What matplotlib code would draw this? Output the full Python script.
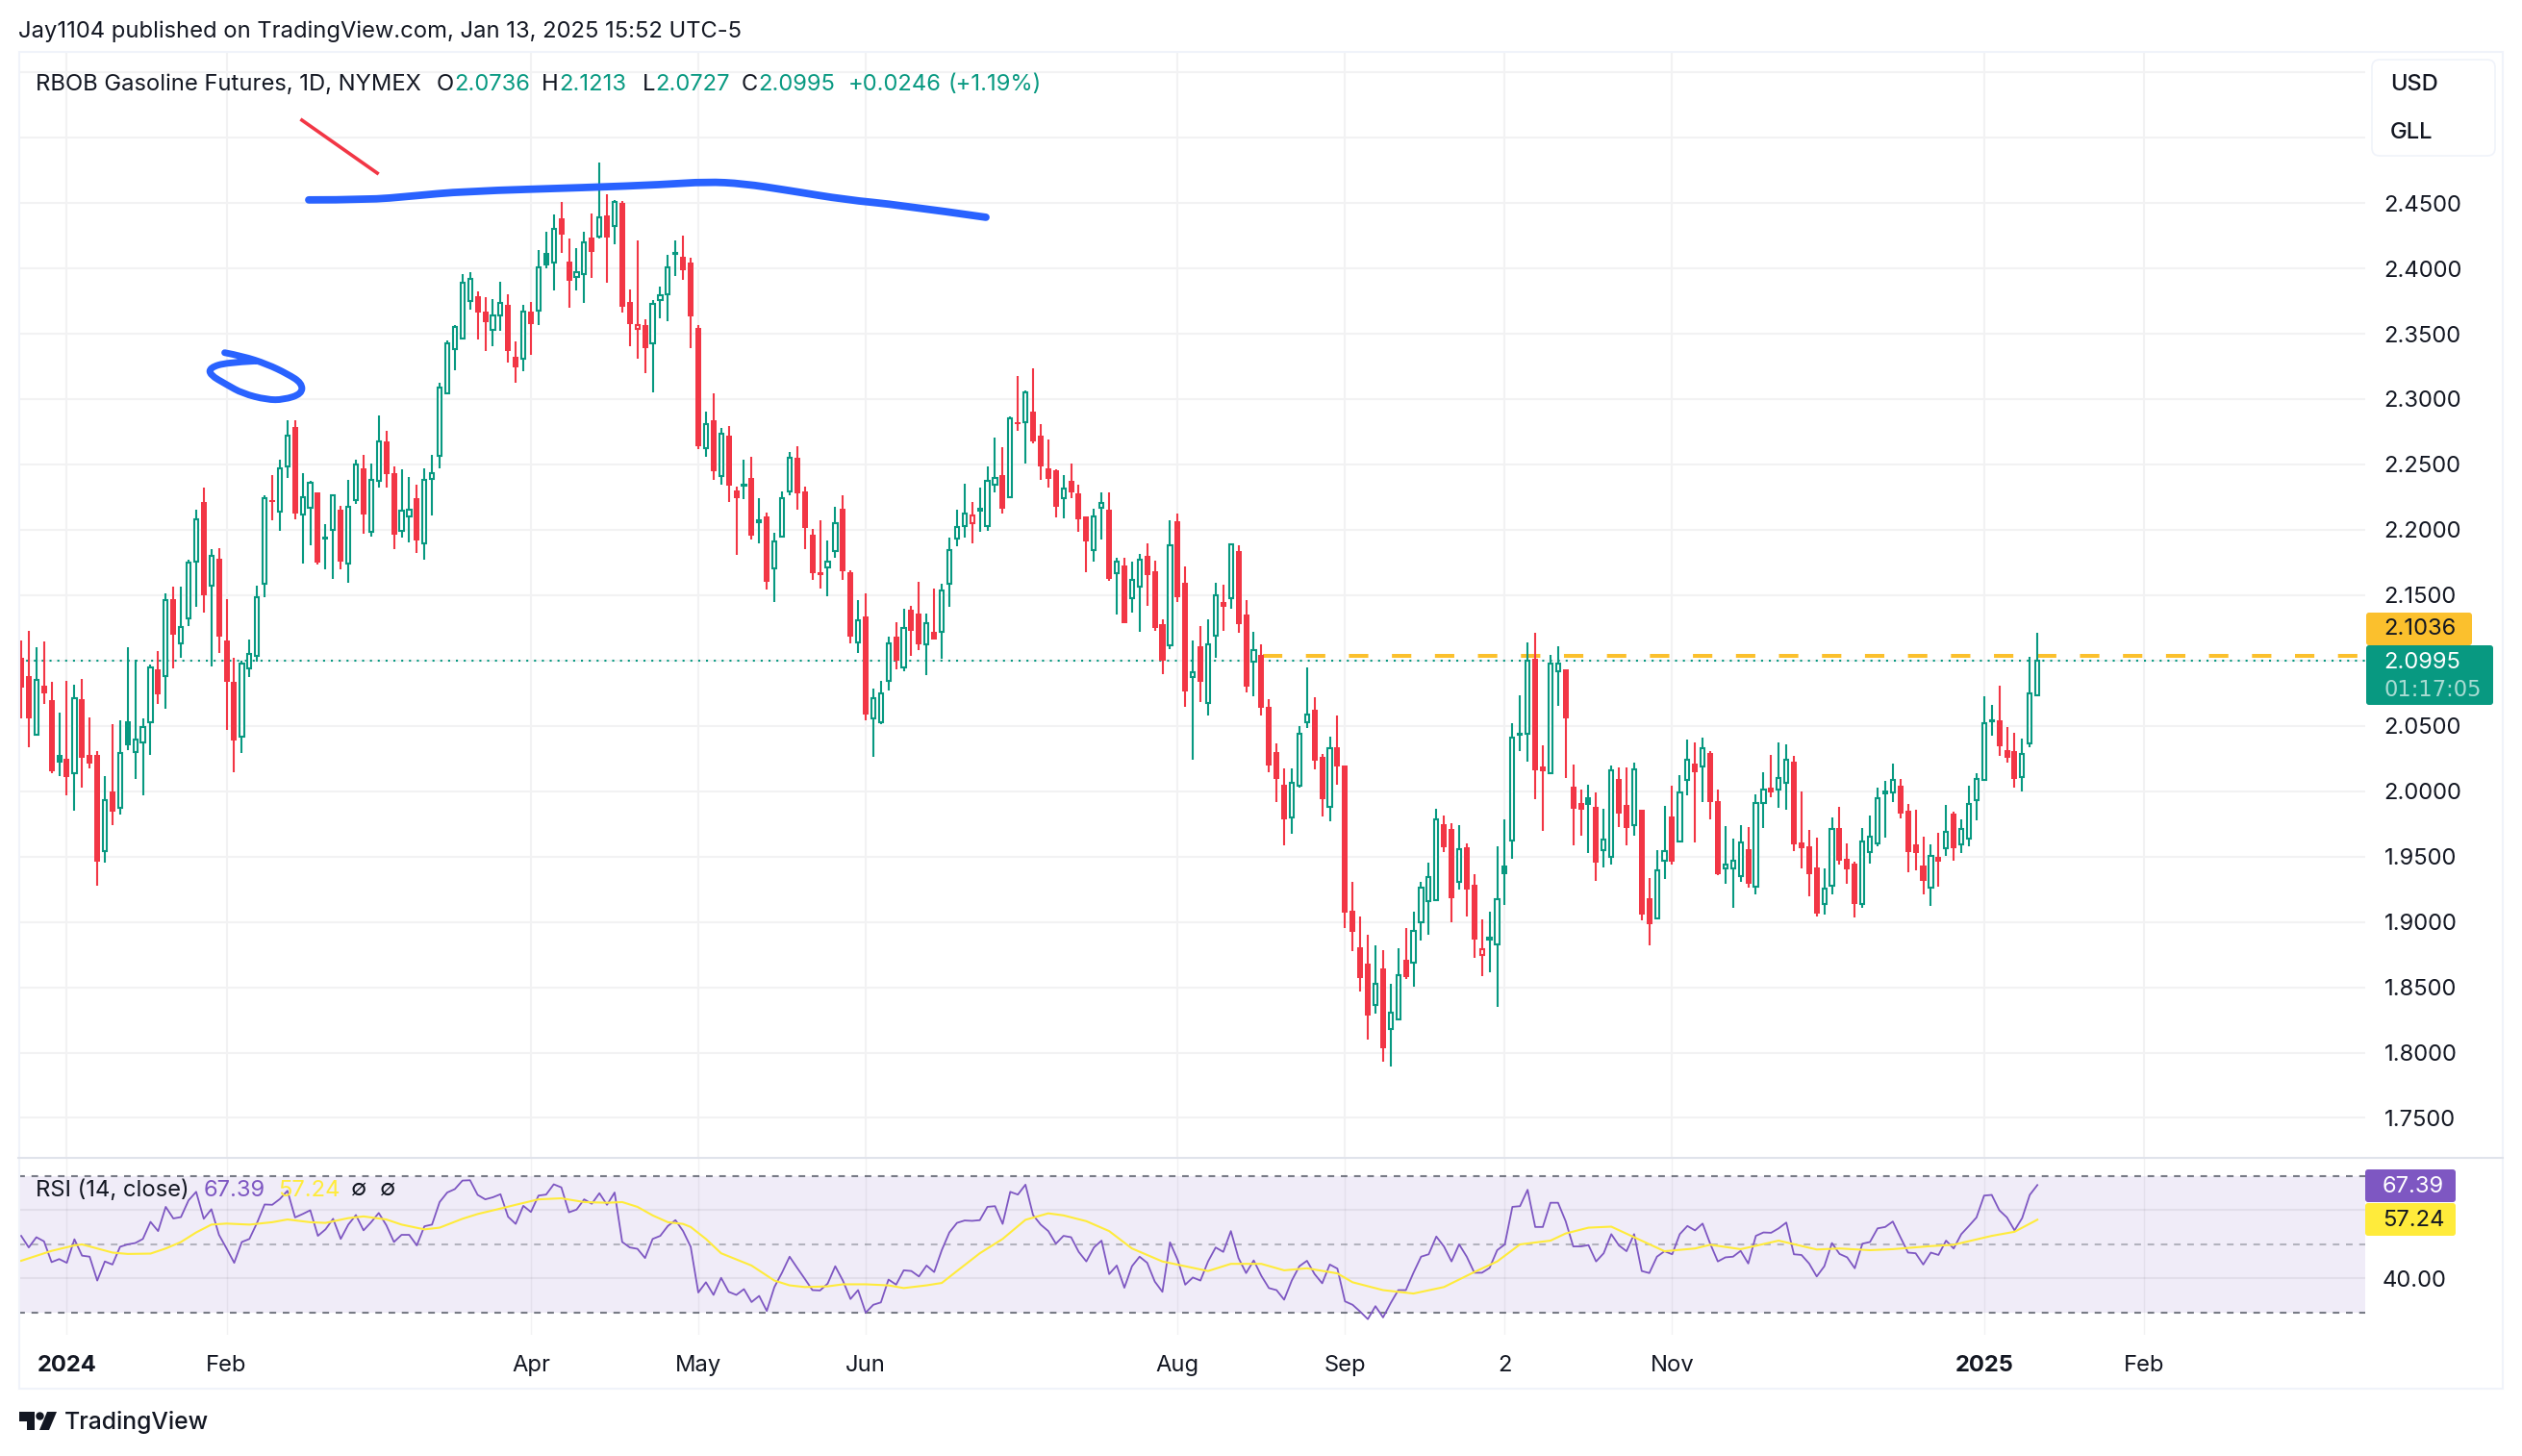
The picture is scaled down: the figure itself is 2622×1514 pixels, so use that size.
import matplotlib
matplotlib.use("Agg")
import matplotlib.pyplot as plt
from matplotlib.patches import FancyBboxPatch, Polygon, Circle, Rectangle, PathPatch
from matplotlib.path import Path

plt.rcParams['font.family'] = ['Inter', 'DejaVu Sans']

# =========================== data ===========================
highs = [
    2.1151,2.123,2.1099,2.1144,2.084,2.06,2.0847,2.0814,2.0862,2.0562,
    2.0307,2.0112,2.051,2.054,2.1099,2.1009,2.0555,2.0967,2.1069,2.1511,
    2.1564,2.1567,2.1774,2.2156,2.2325,2.1849,2.1856,2.1466,2.1024,2.1001,
    2.1159,2.1571,2.2261,2.2422,2.2539,2.2835,2.2839,2.2437,2.2374,2.2284,
    2.204,2.2272,2.2182,2.2385,2.2539,2.2576,2.2509,2.2876,2.276,2.2486,
    2.246,2.2407,2.2347,2.2467,2.2576,2.3124,2.3446,2.357,2.396,2.3971,
    2.3825,2.378,2.3765,2.39,2.3802,2.3442,2.3724,2.3746,2.414,2.4279,
    2.4414,2.4507,2.423,2.4155,2.4279,2.4421,2.4807,2.4567,2.4526,2.4519,
    2.384,2.4215,2.3611,2.3761,2.3859,2.4106,2.4215,2.4252,2.408,2.357,
    2.2906,2.3045,2.2782,2.2797,2.2329,2.2539,2.2561,2.2239,2.213,2.1976,
    2.2291,2.2595,2.2636,2.2329,2.201,2.207,2.192,2.2179,2.2261,2.1687,
    2.1459,2.1511,2.0784,2.0847,2.1181,2.129,2.1399,2.1421,2.1605,2.1357,
    2.1552,2.159,2.1942,2.2156,2.2355,2.2209,2.2325,2.2486,2.2707,2.2629,
    2.2869,2.318,2.3067,2.3232,2.2812,2.2692,2.246,2.2415,2.2509,2.2347,
    2.21,2.2164,2.2284,2.2284,2.1789,2.1789,2.1759,2.1815,2.1894,2.1766,
    2.1312,2.207,2.2126,2.1717,2.1151,2.1267,2.1312,2.1594,2.1582,2.1897,
    2.1879,2.1459,2.1217,2.1124,2.0704,2.0365,2.0173,2.0173,2.0497,2.0947,
    2.0719,2.0284,2.0416,2.0578,2.0197,1.9306,1.9042,1.8904,1.8823,1.8784,
    1.8529,1.8799,1.8955,1.9078,1.9306,1.9453,1.9867,1.9813,1.9756,1.9741,
    1.96,1.9366,1.9021,1.9078,1.9579,1.9786,2.0521,2.0734,2.1136,2.1211,
    2.035,2.1043,2.1109,2.0932,2.0203,2.0014,2.005,1.999,1.9867,2.0194,
    2.0182,2.0182,2.0218,1.9858,1.9336,1.9549,1.9888,2.0041,2.0122,2.0395,
    2.0374,2.041,2.0308,2.0014,1.9732,1.9639,1.9741,1.9726,1.9975,2.0146,
    2.0278,2.0374,2.0362,2.0269,1.9999,1.9705,1.9645,1.9411,1.9801,1.9879,
    1.96,1.9462,1.972,1.9816,2.0029,2.0081,2.0213,2.0095,1.9904,1.986,
    1.9654,1.9596,1.9681,1.9895,1.9846,1.9787,2.0044,2.014,2.0728,2.0661,
    2.0808,2.0492,2.0448,2.0404,2.1029,2.1213,
]
body_tops = [
    2.102,2.0878,2.0851,2.0806,2.0694,2.0274,2.0247,2.0712,2.0701,2.0274,
    2.0281,1.9932,1.9996,2.0292,2.0532,2.0397,2.0491,2.0945,2.093,2.1462,
    2.1466,2.1256,2.1751,2.2081,2.2216,2.18,2.1781,2.1151,2.084,2.0975,
    2.105,2.1485,2.2239,2.2224,2.2467,2.2719,2.279,2.225,2.2362,2.2284,
    2.195,2.2265,2.2156,2.2175,2.2497,2.2467,2.2381,2.2674,2.2677,2.2437,
    2.2145,2.2152,2.2239,2.2381,2.2434,2.3086,2.3424,2.3551,2.3889,2.3919,
    2.3787,2.3671,2.3637,2.3735,2.3724,2.3326,2.3667,2.3671,2.4005,2.4121,
    2.4305,2.4384,2.4054,2.3971,2.4196,2.4237,2.4387,2.4406,2.4511,2.45,
    2.3746,2.357,2.357,2.3731,2.3791,2.4005,2.4121,2.4091,2.4046,2.3547,
    2.2809,2.2835,2.2734,2.2722,2.2302,2.2347,2.24,2.207,2.2104,2.1912,
    2.2242,2.255,2.2554,2.2295,2.1965,2.1672,2.1759,2.2051,2.2164,2.1672,
    2.1309,2.1335,2.0712,2.075,2.1132,2.1181,2.1249,2.1391,2.1357,2.1286,
    2.1222,2.1537,2.1845,2.2021,2.2122,2.2107,2.2171,2.2374,2.2396,2.2422,
    2.285,2.282,2.3049,2.2906,2.2722,2.2467,2.2452,2.2314,2.2377,2.2276,
    2.21,2.21,2.2205,2.2156,2.1759,2.1725,2.1616,2.177,2.1804,2.168,
    2.1275,2.1882,2.2062,2.1597,2.0911,2.1106,2.1125,2.15,2.1451,2.189,
    2.1834,2.135,2.1082,2.1043,2.0644,2.0299,2.005,2.0062,2.0437,2.059,
    2.0623,2.0263,2.0332,2.0335,2.0197,1.9087,1.8808,1.8682,1.8526,1.8646,
    1.8304,1.8592,1.8712,1.8928,1.9261,1.9342,1.9783,1.9747,1.9711,1.9555,
    1.9573,1.9285,1.879,1.8877,1.9177,1.9435,2.0407,2.0443,2.1001,2.1013,
    2.0188,2.0974,2.098,2.0932,2.0035,1.9909,1.9954,1.9879,1.9627,2.0158,
    2.0095,1.9894,2.0164,1.9858,1.9183,1.9393,1.954,1.9807,1.9987,2.0239,
    2.0212,2.0326,2.0293,1.9924,1.9441,1.9465,1.9606,1.9558,1.9906,2.0011,
    2.0026,2.0104,2.0239,2.0227,1.9609,1.9579,1.9417,1.9252,1.9708,1.972,
    1.9483,1.9447,1.9612,1.965,1.9944,2.0007,2.0083,2.0044,1.985,1.9596,
    1.9434,1.9503,1.95,1.9686,1.9831,1.9708,1.9899,2.0091,2.0517,2.0541,
    2.0544,2.0316,2.0309,2.0284,2.0745,2.0995,
]
body_bottoms = [
    2.0795,2.0555,2.0431,2.0746,2.015,2.0217,2.0105,2.0139,2.0255,2.021,
    1.946,1.9542,1.9842,1.9876,2.0352,2.03,2.0371,2.0529,2.0739,2.0881,
    2.1196,2.1129,2.1324,2.1755,2.1496,2.1575,2.1181,2.0836,2.0386,2.042,
    2.0941,2.1035,2.1586,2.2209,2.2137,2.2486,2.2126,2.2119,2.2171,2.1751,
    2.1927,2.1999,2.1759,2.174,2.2227,2.2119,2.1984,2.2374,2.2426,2.1961,
    2.1991,2.2104,2.192,2.1897,2.2392,2.2569,2.3045,2.3379,2.3461,2.375,
    2.366,2.3592,2.3532,2.3641,2.3367,2.3244,2.3311,2.3574,2.3675,2.402,
    2.4042,2.426,2.3907,2.3934,2.3956,2.4125,2.4245,2.4237,2.4324,2.3709,
    2.3574,2.354,2.339,2.3424,2.3757,2.3799,2.411,2.3986,2.3634,2.2636,
    2.2625,2.2445,2.2411,2.234,2.2239,2.2336,2.1957,2.2059,2.1605,2.1706,
    2.195,2.2291,2.2276,2.2017,2.1665,2.165,2.171,2.1837,2.168,2.1181,
    2.1136,2.0589,2.0555,2.0525,2.0844,2.0997,2.0949,2.123,2.1121,2.1121,
    2.1159,2.1219,2.1586,2.1931,2.2025,2.2051,2.2137,2.2029,2.2347,2.2164,
    2.2246,2.2809,2.2824,2.2677,2.2486,2.2392,2.2179,2.2242,2.2287,2.2077,
    2.1909,2.1845,2.2167,2.1624,2.1669,2.1282,2.1477,2.1564,2.165,2.1249,
    2.1001,2.1114,2.1481,2.0761,2.0874,2.084,2.0675,2.1189,2.1414,2.1477,
    2.1275,2.0799,2.0989,2.0638,2.0197,2.0095,1.9786,1.9798,2.0044,2.0527,
    2.0233,1.9939,1.9882,2.0188,1.9072,1.8925,1.8571,1.8286,1.8361,1.8037,
    1.8181,1.8253,1.858,1.8688,1.8997,1.9156,1.9165,1.9573,1.9183,1.9306,
    1.9249,1.8865,1.8745,1.8868,1.8826,1.9363,1.9621,2.0434,2.0437,2.0161,
    2.0149,2.0137,2.092,2.0557,1.9867,1.9858,1.9897,1.9453,1.9549,1.9501,
    1.9828,1.972,1.9744,1.9057,1.8985,1.9027,1.9465,1.9462,1.9615,2.0083,
    2.0146,2.0188,1.9918,1.9363,1.9408,1.9408,1.9354,1.9291,1.927,1.9912,
    1.999,2.0011,2.0062,1.9594,1.9564,1.9366,1.9066,1.9135,1.9276,1.9468,
    1.9402,1.9138,1.9135,1.9534,1.9598,1.9973,1.9993,1.9831,1.9537,1.953,
    1.9316,1.9262,1.9463,1.9564,1.9566,1.9593,1.9637,1.9931,2.0086,2.0534,
    2.0345,2.0257,2.0095,2.0105,2.0365,2.0736,
]
lows = [
    2.0555,2.0334,2.0424,2.0664,2.0135,2.0112,1.9966,1.985,2.0026,2.0172,
    1.9276,1.9452,1.9737,1.982,2.0311,2.009,1.9966,2.0281,2.0671,2.0634,
    2.0937,2.1024,2.1267,2.1414,2.1369,2.0952,2.1054,2.0472,2.0142,2.0289,
    2.0874,2.099,2.1481,2.207,2.1995,2.24,2.2077,2.1744,2.1882,2.1732,
    2.1695,2.1627,2.1695,2.1597,2.2201,2.1972,2.195,2.2325,2.2325,2.1849,
    2.1942,2.1905,2.1819,2.1774,2.2111,2.2471,2.3034,2.3221,2.3454,2.3686,
    2.3457,2.3371,2.3405,2.3525,2.3281,2.3127,2.3214,2.3341,2.357,2.4001,
    2.3832,2.4121,2.3701,2.3832,2.3739,2.393,2.4226,2.3892,2.4185,2.3664,
    2.3401,2.3311,2.3202,2.3052,2.3615,2.3596,2.3941,2.3915,2.339,2.2614,
    2.2561,2.2385,2.2347,2.2216,2.1811,2.2231,2.1927,2.1894,2.1541,2.1444,
    2.1946,2.2261,2.2156,2.1849,2.162,2.1549,2.1489,2.1789,2.162,2.1129,
    2.1054,2.054,2.0266,2.051,2.0769,2.093,2.0915,2.1039,2.1076,2.0885,
    2.1159,2.1016,2.1414,2.1871,2.1942,2.1894,2.1987,2.1995,2.2284,2.2126,
    2.2242,2.276,2.2509,2.2662,2.2385,2.2325,2.2092,2.2085,2.2239,2.1987,
    2.1672,2.1759,2.1927,2.1609,2.135,2.1282,2.1369,2.1222,2.1421,2.123,
    2.0892,2.1084,2.1451,2.0649,2.024,2.0679,2.0577,2.1024,2.123,2.1399,
    2.1215,2.0754,2.0725,2.0578,2.0146,1.9918,1.9585,1.9675,2.0029,2.0482,
    2.0167,1.9804,1.9771,2.005,1.8952,1.8778,1.8469,1.8103,1.8301,1.7932,
    1.7896,1.8253,1.8565,1.8505,1.8859,1.8904,1.9162,1.9534,1.8997,1.9249,
    1.9042,1.8727,1.8586,1.8616,1.8352,1.9132,1.9483,2.0308,2.0227,1.9939,
    1.9696,2.0131,2.0653,2.0101,1.9585,1.966,1.9528,1.9315,1.9417,1.9438,
    1.9726,1.9585,1.966,1.9012,1.8823,1.9024,1.933,1.9438,1.9612,1.9969,
    1.9609,1.9918,1.9786,1.936,1.9291,1.9108,1.9306,1.9264,1.9213,1.972,
    1.9954,1.9873,1.9858,1.9543,1.9411,1.9198,1.9042,1.9057,1.9213,1.9438,
    1.9291,1.9036,1.9111,1.9449,1.9581,1.9647,1.9919,1.9794,1.9383,1.9397,
    1.9213,1.9125,1.9272,1.9507,1.9471,1.953,1.9581,1.9779,2.0083,2.0426,
    2.0272,2.022,2.0029,2.0,2.0338,2.0727,
]
# R filled red, G hollow green, F filled green, H hollow red
kinds = (
    "RRGRRFRGRR" "RGRGFGGGRG" "RGGGRGRRRG" "GGGRGGRGGR" "FGRGGRGGRR"
    "GGRGGGGGGG" "RRGGRRGRGF" "GRRGGRGRGR" "RHRGGGGRRR" "GRGRRGRGRG"
    "GGRRRRGGRR" "GRGGGRGRRG" "RGGGGHFGGR" "GRGRRRRGRR" "RGGRGRGGRR"
    "RGRRGRGGRG" "RRGRRRRGGG" "RRGRRRRRGR" "GGRGGGGRRG" "RRHGGFGGGR"
    "RGGRRRFRGG" "RRGRRGGRGG" "RGRRGGGRGG" "RGGRRRRGGR" "RRGGGFGRRR"
    "RGRGRGGGGG" "RRRGGG"
)

rsi_values = [
    52.5,49.1,52.1,50.9,44.8,45.7,44.6,51.5,46.7,46.4,
    39.4,45.0,44.1,49.3,50.0,50.4,51.6,56.6,53.9,61.0,
    57.6,58.0,62.9,65.4,57.5,60.3,52.8,48.8,44.6,50.7,
    51.6,56.3,61.7,61.6,63.3,65.7,57.9,58.9,60.0,52.5,
    54.4,57.5,51.6,55.8,58.6,54.1,56.5,59.2,55.6,50.7,
    52.8,52.8,49.7,55.3,55.8,62.4,65.2,66.2,68.7,68.8,
    64.5,63.2,63.8,64.7,58.1,56.0,61.3,59.5,64.3,64.6,
    67.6,66.7,59.4,60.2,63.2,61.9,65.0,61.6,65.2,50.7,
    49.1,48.7,46.0,51.6,52.5,55.4,57.1,53.9,49.3,35.9,
    38.9,35.2,40.2,36.1,35.2,36.9,33.1,34.9,30.5,37.5,
    41.7,46.4,43.1,39.9,36.6,36.5,38.5,43.6,39.4,34.0,
    36.6,30.0,32.3,33.0,39.7,38.2,42.4,42.2,40.6,43.8,
    41.9,48.3,53.5,56.3,57.0,56.9,57.1,61.0,61.2,56.0,
    65.4,64.6,67.5,58.6,55.8,53.9,50.2,52.5,52.1,47.8,
    45.0,49.1,51.1,41.3,43.8,37.3,43.6,46.4,44.6,39.1,
    36.1,50.6,45.5,38.2,40.3,39.4,45.0,49.1,47.8,53.9,
    46.0,41.6,45.3,40.8,37.2,36.6,33.8,39.4,43.6,45.2,
    41.3,38.6,44.1,42.9,33.3,32.3,30.3,28.1,31.9,28.6,
    32.8,36.6,36.6,41.7,46.4,47.1,52.3,49.4,45.0,50.0,
    46.4,41.7,41.7,43.1,48.3,50.0,61.0,61.2,66.0,55.1,
    55.1,62.2,62.2,56.8,49.4,49.4,49.8,45.0,47.4,53.0,
    49.7,48.0,53.0,42.2,41.6,46.4,48.0,47.1,53.0,55.4,
    54.1,56.1,50.2,45.0,46.2,46.4,48.1,44.4,52.5,53.5,
    53.4,54.7,56.4,47.1,46.9,44.4,40.6,43.6,50.4,47.2,
    46.2,43.0,50.2,50.7,54.7,55.1,56.7,52.1,47.6,47.4,
    44.1,47.6,46.9,51.1,48.8,53.0,55.4,57.9,64.3,64.5,
    60.0,57.9,54.1,57.7,64.5,67.39,
]
ma_bars = [0,4,7,8,10,12,14,17,19,21,23,25,27,30,33,35,38,40,43,45,48,50,53,55,58,60,63,65,68,71,
           74,77,79,81,83,85,87,88,90,92,96,99,101,103,106,108,111,114,116,119,121,123,
           126,129,132,135,137,140,143,146,148,150,153,156,159,163,166,169,173,175,179,183,187,191,
           194,197,201,203,206,209,212,216,220,222,226,231,236,239,243,246,251,254,259,262,265]
ma_values = [45.2,48.1,49.7,50.0,48.8,47.6,47.2,47.3,48.8,50.7,53.5,55.8,56.1,55.8,56.5,57.3,56.5,56.3,57.7,58.2,
             57.3,55.8,54.4,54.9,57.5,58.9,60.5,61.6,63.2,63.5,
             62.4,62.2,62.4,61.0,58.5,56.5,56.0,55.1,51.6,47.4,43.8,39.4,38.0,37.5,37.7,38.3,38.3,38.0,37.2,38.0,38.7,42.2,
             47.4,51.6,57.2,59.1,58.5,56.8,53.9,48.8,46.9,45.0,43.6,42.2,44.3,44.3,42.4,43.0,41.5,38.9,36.6,35.6,37.5,41.9,
             45.0,50.0,51.1,53.2,54.9,55.2,52.1,48.0,48.8,49.9,48.6,51.1,48.5,48.8,48.3,48.6,49.5,49.9,52.5,53.7,57.24]

price_ticks = [1.75, 1.80, 1.85, 1.90, 1.95, 2.00, 2.05, 2.10, 2.15, 2.20, 2.25, 2.30, 2.35, 2.40, 2.45, 2.50, 2.55]
price_labels = ["1.7500", "1.8000", "1.8500", "1.9000", "1.9500", "2.0000", "2.0500", "", "2.1500", "2.2000",
                "2.2500", "2.3000", "2.3500", "2.4000", "2.4500", "", ""]
date_bars = [6, 27, 67, 89, 111, 152, 174, 195, 217, 258, 279]
date_labels = ["2024", "Feb", "Apr", "May", "Jun", "Aug", "Sep", "2", "Nov", "2025", "Feb"]
bold_dates = ["2024", "2025"]

last_close = 2.0995
resistance = 2.1036
resistance_start = 163.2

# hand drawn marks on the chart (bar number, price)
line_bars = [37.8, 45.6, 51.3, 58.2, 74.6, 84.3, 90.1, 94.9, 100.8, 108.5, 115.2, 126.8]
line_prices = [2.4524, 2.4524, 2.4553, 2.459, 2.4619, 2.4641, 2.4663, 2.4649, 2.4597, 2.4524, 2.4487, 2.4391]
loop_bars = [26.75, 29.1, 32.3, 35.0, 36.9, 36.9, 34.5, 32.3, 29.1, 27.0, 24.8, 24.8, 27.0, 30.7]
loop_prices = [2.3355, 2.3329, 2.3268, 2.3193, 2.3122, 2.3040, 2.2995, 2.2995, 2.3043, 2.3111, 2.3186, 2.3240, 2.3280, 2.3291]
red_bars = [36.9, 46.8]
red_prices = [2.5134, 2.4729]

# =========================== colours and layout ===========================
GREEN = '#089981'
RED = '#F23645'
BLUE = '#2962FF'
ORANGE = '#FBC02D'
PURPLE = '#7E57C2'
YELLOW = '#FFEB3B'
INK = '#131722'
GRID = '#F2F2F3'
BORDER = '#F0F3FA'
FS = 17.1

W, H = 2622, 1514
LEFT, RIGHT = 19, 2459
X0, BAR = 22.0, 7.91
xlim = ((LEFT - X0) / BAR, (RIGHT - X0) / BAR)

fig = plt.figure(figsize=(W / 100, H / 100), dpi=100, facecolor='white')


def axes_px(x0, y0, x1, y1, **kw):
    return fig.add_axes([x0 / W, 1 - y1 / H, (x1 - x0) / W, (y1 - y0) / H], **kw)


def ink_path(xs, ys):
    # quadratic curve through the midpoints, the read points act as control points
    verts = [(xs[0], ys[0])]
    codes = [Path.MOVETO]
    for i in range(1, len(xs) - 1):
        verts.append((xs[i], ys[i]))
        codes.append(Path.CURVE3)
        if i < len(xs) - 2:
            verts.append(((xs[i] + xs[i + 1]) / 2, (ys[i] + ys[i + 1]) / 2))
        else:
            verts.append((xs[i + 1], ys[i + 1]))
        codes.append(Path.CURVE3)
    return Path(verts, codes)


# =========================== price pane ===========================
ax = axes_px(LEFT, 54, RIGHT, 1203)
ax.set_xlim(*xlim)
ax.set_ylim(1.7202, 2.5656)
ax.set_axisbelow(True)
ax.grid(True, color=GRID, lw=1.5)
for side in ax.spines.values():
    side.set_visible(False)
ax.set_yticks(price_ticks)
ax.set_yticklabels(price_labels, fontsize=FS, color=INK, ha='left')
ax.yaxis.tick_right()
ax.tick_params(axis='y', length=0, pad=14)
ax.set_xticks(date_bars)
ax.tick_params(axis='x', length=0, labelbottom=False)

bars = list(range(len(highs)))
colors = [RED if k in 'RH' else GREEN for k in kinds]
ax.vlines(bars, lows, highs, colors=colors, lw=1.5, zorder=3)
for i, k in enumerate(kinds):
    height = body_tops[i] - body_bottoms[i]
    if k in 'GH':
        ax.bar(i, height, bottom=body_bottoms[i], width=0.54, facecolor='white',
               edgecolor=colors[i], linewidth=1.5, zorder=4)
    else:
        ax.bar(i, height, bottom=body_bottoms[i], width=0.76, color=colors[i], zorder=4)

ax.axhline(last_close, color=GREEN, lw=1.5, dashes=(1, 2.9), zorder=2.5)
ax.plot([resistance_start, xlim[1]], [resistance, resistance], color=ORANGE, lw=2.9,
        dashes=(5, 6.1), zorder=2.6)

ax.add_patch(PathPatch(ink_path(line_bars, line_prices), fill=False, ec=BLUE, lw=5.6, capstyle='round', zorder=5))
ax.add_patch(PathPatch(ink_path(loop_bars, loop_prices), fill=False, ec=BLUE, lw=5, capstyle='round',
                       joinstyle='round', zorder=5))
ax.plot(red_bars, red_prices, color=RED, lw=2.6, zorder=5)

# =========================== RSI pane ===========================
rsi_ax = axes_px(LEFT, 1204, RIGHT, 1388)
rsi_ax.set_xlim(*xlim)
rsi_ax.set_ylim(23.5, 75.35)
for side in rsi_ax.spines.values():
    side.set_visible(False)
rsi_ax.axhspan(30, 70, color=PURPLE, alpha=0.11, lw=0, zorder=0)
rsi_ax.set_axisbelow(False)
rsi_ax.set_xticks(date_bars)
rsi_ax.set_xticklabels(date_labels, fontsize=FS, color=INK)
for lab in rsi_ax.get_xticklabels():
    if lab.get_text() in bold_dates:
        lab.set_fontweight('bold')
rsi_ax.tick_params(axis='x', length=0, pad=15)
rsi_ax.grid(True, axis='x', color='#2A2E39', alpha=0.06, lw=1)
rsi_ax.set_yticks([40])
rsi_ax.set_yticklabels(["40.00"], fontsize=FS, color=INK, ha='left')
rsi_ax.yaxis.tick_right()
rsi_ax.tick_params(axis='y', length=0, pad=13)
rsi_ax.axhline(60, color='#2A2E39', alpha=0.07, lw=1.5, zorder=1)
rsi_ax.axhline(40, color='#2A2E39', alpha=0.07, lw=1.5, zorder=1)
rsi_ax.axhline(70, color='#787B86', lw=1.5, dashes=(3.3, 3.3), zorder=1.5)
rsi_ax.axhline(50, color='#787B86', alpha=0.5, lw=1.5, dashes=(3.3, 3.3), zorder=1.5)
rsi_ax.axhline(30, color='#787B86', lw=1.5, dashes=(3.3, 3.3), zorder=1.5)
rsi_ax.plot(bars, rsi_values, color=PURPLE, lw=1.3, zorder=3)
rsi_ax.plot(ma_bars, ma_values, color=YELLOW, lw=1.5, zorder=4)

# =========================== frame, badges, texts (in pixels) ===========================
px = axes_px(0, 0, W, H, facecolor='none', zorder=10)
px.set_xlim(0, W)
px.set_ylim(H, 0)
px.axis('off')


def label(x, y, s, color=INK, size=FS, weight='normal', ha='left', alpha=1, family=None):
    px.text(x, y + 1, s, color=color, fontsize=size, fontweight=weight, ha=ha, va='center',
            alpha=alpha, family=family)


def badge(x0, y0, x1, y1, color):
    px.add_patch(FancyBboxPatch((x0 + 3, y0 + 3), x1 - x0 - 6, y1 - y0 - 6,
                                boxstyle='round,pad=3,rounding_size=3', fc=color, ec='none'))


px.add_patch(Rectangle((19.5, 54), 2582.5, 1390, fill=False, ec=BORDER, lw=1.5))
px.plot([19, 2602], [1204, 1204], color='#E0E3EB', lw=1.5)

badge(2460, 637, 2570, 671, ORANGE)
badge(2460, 671, 2592, 733, GREEN)
label(2478, 653, "2.1036")
label(2478, 688, "2.0995", color='white')
label(2478, 716, "01:17:05", color='white', alpha=0.65, size=16.3, family='DejaVu Sans')
badge(2459, 1216, 2553, 1250, PURPLE)
badge(2459, 1251, 2553, 1285, YELLOW)
label(2477, 1233, "67.39", color='white')
label(2477, 1268, "57.24")

px.add_patch(FancyBboxPatch((2472, 68), 116, 88, boxstyle='round,pad=6,rounding_size=8',
                            fc='white', ec=BORDER, lw=1.2))
label(2485, 87, "USD", weight='medium')
label(2485, 137, "GLL", weight='medium')

label(19, 32, "Jay1104 published on TradingView.com, Jan 13, 2025 15:52 UTC-5")
label(37, 87, "RBOB Gasoline Futures, 1D, NYMEX")
label(454, 87, "O")
label(472, 87, "2.0736", color=GREEN)
label(563, 87, "H")
label(581.5, 87, "2.1213", color=GREEN)
label(668, 87, "L")
label(681, 87, "2.0727", color=GREEN)
label(771, 87, "C")
label(788, 87, "2.0995", color=GREEN)
label(882, 87, "+0.0246", color=GREEN)
label(985.5, 87, "(+1.19%)", color=GREEN)

label(37, 1237, "RSI (14, close)")
label(212, 1237, "67.39", color=PURPLE)
label(289, 1237, "57.24", color=YELLOW)
label(365, 1237, "∅")
label(395, 1237, "∅")

# logo
px.add_patch(Polygon([(20, 1468), (36, 1468), (36, 1487), (28, 1487), (28, 1478), (20, 1478)], fc=INK, ec='none'))
px.add_patch(Circle((41.5, 1472.5), 4.2, fc=INK, ec='none'))
px.add_patch(Polygon([(49, 1468), (59, 1468), (51, 1487), (41, 1487)], fc=INK, ec='none'))
label(67, 1478, "TradingView", size=17.8, weight='medium')

fig.savefig('out.png', dpi=100, facecolor='white')
